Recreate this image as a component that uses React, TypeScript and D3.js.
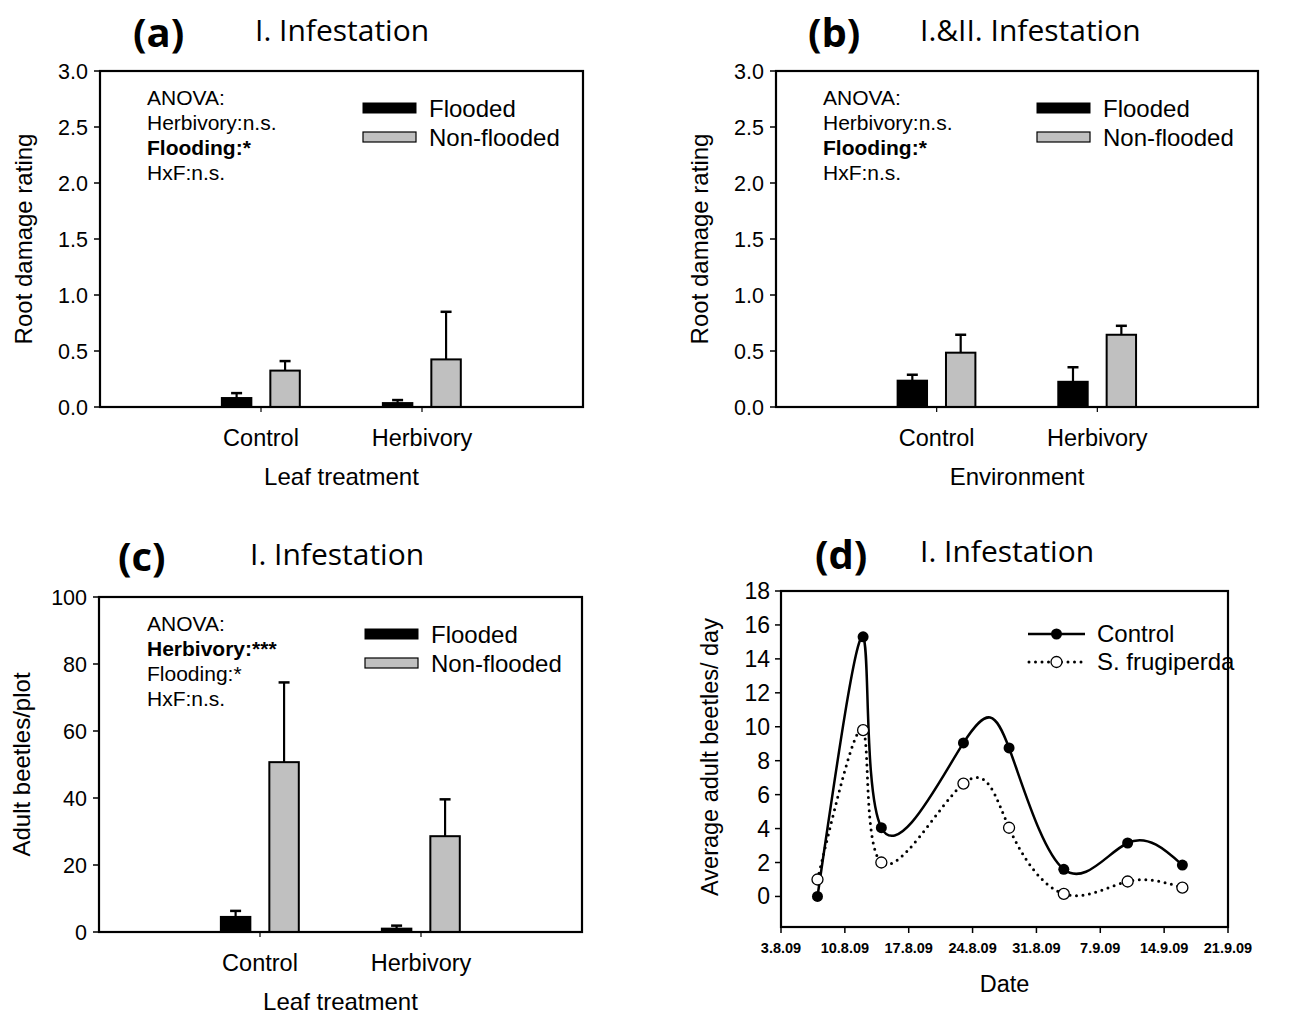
import React from "react";
import * as d3 from "d3";

// data read off the figure
const categories = ["Control", "Herbivory"];

const rootFloodedA = [0.08, 0.035];
const rootFloodedSeA = [0.044, 0.027];
const rootNonFloodedA = [0.325, 0.425];
const rootNonFloodedSeA = [0.085, 0.425];

const rootFloodedB = [0.235, 0.225];
const rootFloodedSeB = [0.053, 0.13];
const rootNonFloodedB = [0.485, 0.645];
const rootNonFloodedSeB = [0.16, 0.08];

const beetlesFlooded = [4.5, 1.0];
const beetlesFloodedSe = [1.8, 0.9];
const beetlesNonFlooded = [50.7, 28.6];
const beetlesNonFloodedSe = [23.8, 11.0];

const dates = ["2009-08-07", "2009-08-12", "2009-08-14", "2009-08-23", "2009-08-28", "2009-09-03", "2009-09-10", "2009-09-16"];
const controlBeetles = [0, 15.3, 4.05, 9.05, 8.75, 1.6, 3.15, 1.85];
const frugiperdaBeetles = [1.0, 9.8, 2.0, 6.65, 4.05, 0.15, 0.88, 0.52];
const dateTicks = ["2009-08-03", "2009-08-10", "2009-08-17", "2009-08-24", "2009-08-31", "2009-09-07", "2009-09-14", "2009-09-21"];

const sans = "'Liberation Sans', Arial, sans-serif";
const titleFont = "'Open Sans', sans-serif";
const GRAY = "#c0c0c0";

type Line = { text: string; bold?: boolean };

function BarPanel(props: any) {
  const { left, right, top, bottom, yMax, yTicks, yFmt, flooded, floodedSe, non, nonSe,
    yTitle, yTitleX, xTitle, label, labelX, title, titleX, titleY, anova, anovaX, legendX } = props;
  const x = d3.scaleLinear().domain([0, 3]).range([left, right]);
  const y = d3.scaleLinear().domain([0, yMax]).range([bottom, top]);
  const bw = x(0.183) - x(0);
  const series = [
    { vals: flooded, se: floodedSe, fill: "#000", off: -0.243 },
    { vals: non, se: nonSe, fill: GRAY, off: 0.058 },
  ];
  return (
    <g>
      <text x={labelX} y={titleY + 6} fontFamily={titleFont} fontWeight={700} fontSize={40}>{label}</text>
      <text x={titleX} y={titleY} fontFamily={titleFont} fontSize={30}>{title}</text>
      {series.map((s, si) =>
        s.vals.map((v: number, i: number) => {
          const x0 = x(i + 1 + s.off);
          const cx = x0 + bw / 2;
          return (
            <g key={si + "-" + i}>
              <line x1={cx} x2={cx} y1={y(v)} y2={y(v + s.se[i])} stroke="#000" strokeWidth={2.2} />
              <line x1={cx - 5.5} x2={cx + 5.5} y1={y(v + s.se[i])} y2={y(v + s.se[i])} stroke="#000" strokeWidth={2.5} />
              <rect x={x0} y={y(v)} width={bw} height={y(0) - y(v)} fill={s.fill} stroke="#000" strokeWidth={2} />
            </g>
          );
        })
      )}
      <rect x={left} y={top} width={right - left} height={bottom - top} fill="none" stroke="#000" strokeWidth={2.2} />
      {yTicks.map((t: number) => (
        <g key={t}>
          <line x1={left - 6} x2={left} y1={y(t)} y2={y(t)} stroke="#000" strokeWidth={1.5} />
          <text x={left - 12} y={y(t) + 7.5} textAnchor="end" fontFamily={sans} fontSize={21.5}>{yFmt(t)}</text>
        </g>
      ))}
      {categories.map((c, i) => (
        <g key={c}>
          <line x1={x(i + 1)} x2={x(i + 1)} y1={bottom} y2={bottom + 5} stroke="#000" strokeWidth={1.2} />
          <text x={x(i + 1)} y={bottom + 39} textAnchor="middle" fontFamily={sans} fontSize={23.5}>{c}</text>
        </g>
      ))}
      <text x={(left + right) / 2} y={bottom + 78} textAnchor="middle" fontFamily={sans} fontSize={24}>{xTitle}</text>
      <text transform={`translate(${yTitleX},${(top + bottom) / 2}) rotate(-90)`} textAnchor="middle" fontFamily={sans} fontSize={24}>{yTitle}</text>
      {anova.map((l: Line, i: number) => (
        <text key={i} x={anovaX} y={top + 34 + i * 25} fontFamily={sans} fontSize={21} fontWeight={l.bold ? 700 : 400}>{l.text}</text>
      ))}
      <rect x={legendX} y={top + 32} width={53} height={10} fill="#000" stroke="#000" strokeWidth={1} />
      <text x={legendX + 66} y={top + 46} fontFamily={sans} fontSize={24}>Flooded</text>
      <rect x={legendX} y={top + 61} width={53} height={10} fill={GRAY} stroke="#000" strokeWidth={1.2} />
      <text x={legendX + 66} y={top + 75} fontFamily={sans} fontSize={24}>Non-flooded</text>
    </g>
  );
}

function LinePanel() {
  const left = 781, right = 1228, top = 591, bottom = 927;
  const parse = d3.timeParse("%Y-%m-%d");
  const x = d3.scaleTime().domain([parse("2009-08-03")!, parse("2009-09-21")!]).range([left, right]);
  const y = d3.scaleLinear().domain([-1.8, 18]).range([bottom, top]);
  const pts = (vals: number[]) => dates.map((d, i) => [x(parse(d)!), y(vals[i])] as [number, number]);
  const line = d3.line().curve(d3.curveNatural);
  const fmt = d3.timeFormat("%-d.%-m.%y");
  const yTicks = d3.range(0, 19, 2);
  return (
    <g>
      <text x={815} y={569} fontFamily={titleFont} fontWeight={700} fontSize={40}>(d)</text>
      <text x={920} y={562} fontFamily={titleFont} fontSize={30}>I. Infestation</text>
      <path d={line(pts(controlBeetles)) || ""} fill="none" stroke="#000" strokeWidth={2.5} />
      <path d={line(pts(frugiperdaBeetles)) || ""} fill="none" stroke="#000" strokeWidth={3} strokeDasharray="0 6.5" strokeLinecap="round" />
      {pts(controlBeetles).map((p, i) => (
        <circle key={"c" + i} cx={p[0]} cy={p[1]} r={5.5} fill="#000" />
      ))}
      {pts(frugiperdaBeetles).map((p, i) => (
        <circle key={"f" + i} cx={p[0]} cy={p[1]} r={5.5} fill="#fff" stroke="#000" strokeWidth={1.3} />
      ))}
      <rect x={left} y={top} width={right - left} height={bottom - top} fill="none" stroke="#000" strokeWidth={2.2} />
      {yTicks.map((t) => (
        <g key={t}>
          <line x1={left - 6} x2={left} y1={y(t)} y2={y(t)} stroke="#000" strokeWidth={1.5} />
          <text x={left - 11} y={y(t) + 8} textAnchor="end" fontFamily={sans} fontSize={23}>{t}</text>
        </g>
      ))}
      {dateTicks.map((d) => (
        <g key={d}>
          <line x1={x(parse(d)!)} x2={x(parse(d)!)} y1={bottom} y2={bottom + 6} stroke="#000" strokeWidth={1.5} />
          <text x={x(parse(d)!)} y={bottom + 26} textAnchor="middle" fontFamily={sans} fontWeight={700} fontSize={14.5}>{fmt(parse(d)!)}</text>
        </g>
      ))}
      <text x={(left + right) / 2} y={992} textAnchor="middle" fontFamily={sans} fontSize={23.5}>Date</text>
      <text transform={`translate(718,757) rotate(-90)`} textAnchor="middle" fontFamily={sans} fontSize={23.5}>Average adult beetles/ day</text>
      <line x1={1028} x2={1085} y1={634} y2={634} stroke="#000" strokeWidth={2.5} />
      <circle cx={1056.5} cy={634} r={5.5} fill="#000" />
      <text x={1097} y={642} fontFamily={sans} fontSize={24}>Control</text>
      <line x1={1029} x2={1085} y1={662} y2={662} stroke="#000" strokeWidth={3} strokeDasharray="0 6.5" strokeLinecap="round" />
      <circle cx={1056.5} cy={662} r={5.5} fill="#fff" stroke="#000" strokeWidth={1.3} />
      <text x={1097} y={670} fontFamily={sans} fontSize={24}>S. frugiperda</text>
    </g>
  );
}

export default function App() {
  const f1 = d3.format(".1f");
  const anovaA: Line[] = [
    { text: "ANOVA:" },
    { text: "Herbivory:n.s." },
    { text: "Flooding:*", bold: true },
    { text: "HxF:n.s." },
  ];
  const anovaC: Line[] = [
    { text: "ANOVA:" },
    { text: "Herbivory:***", bold: true },
    { text: "Flooding:*" },
    { text: "HxF:n.s." },
  ];
  return (
    <div style={{ position: "absolute", left: 0, top: 0 }}>
      <svg width={1289} height={1015} style={{ display: "block", background: "#fff" }}>
        <BarPanel left={100} right={583} top={71} bottom={407} yMax={3} yTicks={d3.range(0, 3.01, 0.5)} yFmt={f1}
          flooded={rootFloodedA} floodedSe={rootFloodedSeA} non={rootNonFloodedA} nonSe={rootNonFloodedSeA}
          yTitle="Root damage rating" yTitleX={32} xTitle="Leaf treatment" label="(a)" labelX={133}
          title="I. Infestation" titleX={255} titleY={41} anova={anovaA} anovaX={147} legendX={363} />
        <BarPanel left={776} right={1258} top={71} bottom={407} yMax={3} yTicks={d3.range(0, 3.01, 0.5)} yFmt={f1}
          flooded={rootFloodedB} floodedSe={rootFloodedSeB} non={rootNonFloodedB} nonSe={rootNonFloodedSeB}
          yTitle="Root damage rating" yTitleX={708} xTitle="Environment" label="(b)" labelX={808}
          title="I.&II. Infestation" titleX={920} titleY={41} anova={anovaA} anovaX={823} legendX={1037} />
        <BarPanel left={99} right={582} top={597} bottom={932} yMax={100} yTicks={d3.range(0, 101, 20)} yFmt={(d: number) => String(d)}
          flooded={beetlesFlooded} floodedSe={beetlesFloodedSe} non={beetlesNonFlooded} nonSe={beetlesNonFloodedSe}
          yTitle="Adult beetles/plot" yTitleX={30} xTitle="Leaf treatment" label="(c)" labelX={118}
          title="I. Infestation" titleX={250} titleY={565} anova={anovaC} anovaX={147} legendX={365} />
        <LinePanel />
      </svg>
    </div>
  );
}
